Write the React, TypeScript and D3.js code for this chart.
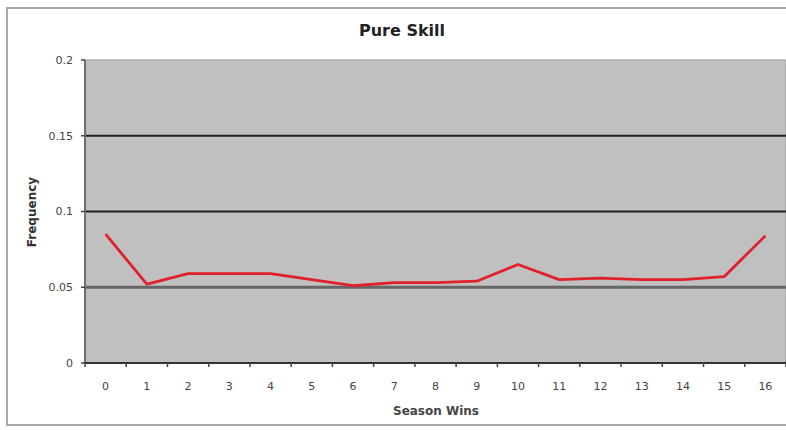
import React from "react";
import * as d3 from "d3";

const title = "Pure Skill";
const xTitle = "Season Wins";
const yTitle = "Frequency";
const wins = ["0","1","2","3","4","5","6","7","8","9","10","11","12","13","14","15","16"];
const frequency = [0.085, 0.052, 0.059, 0.059, 0.059, 0.055, 0.051, 0.053, 0.053, 0.054, 0.065, 0.055, 0.056, 0.055, 0.055, 0.057, 0.084];
const yTicks = [0, 0.05, 0.1, 0.15, 0.2];
const yTickLabels = ["0", "0.05", "0.1", "0.15", "0.2"];

const W = 786, H = 430;
const left = 85, right = 786, top = 60, bottom = 363;

export default function App() {
  const x = d3.scaleBand<string>().domain(wins).range([left, right]);
  const y = d3.scaleLinear().domain([0, 0.2]).range([bottom, top]);
  const line = d3.line<number>()
    .x((_, i) => (x(wins[i]) as number) + x.bandwidth() / 2)
    .y((d) => y(d));
  const font = "'DejaVu Sans', Verdana, sans-serif";
  const boundaries = wins.map((w) => x(w) as number).concat([right]);
  return (
    <svg width={W} height={H} style={{ position: "absolute", left: 0, top: 0, background: "#fff" }}>
      <rect x={7} y={8} width={800} height={417} fill="#fff" stroke="#a8a8a8" strokeWidth={2} />
      <rect x={left} y={top} width={right - left} height={bottom - top} fill="#c0c0c0" stroke="#9a9a9a" strokeWidth={1} />
      {yTicks.filter((t) => t > 0 && t < 0.2).map((t) => (
        <line key={t} x1={left} x2={right} y1={y(t)} y2={y(t)} stroke={t === 0.05 ? "#666" : "#1e1e1e"} strokeWidth={t === 0.05 ? 3 : 1.8} />
      ))}
      <line x1={left} x2={left} y1={top} y2={bottom} stroke="#6f6f6f" strokeWidth={2} />
      <line x1={left} x2={right} y1={bottom} y2={bottom} stroke="#333" strokeWidth={1.8} />
      {yTicks.map((t, i) => (
        <g key={t}>
          <line x1={left - 4} x2={left} y1={y(t)} y2={y(t)} stroke="#444" strokeWidth={1.5} />
          <text x={73} y={y(t)} dy="0.35em" textAnchor="end" fontFamily={font} fontSize={11} fill="#444">{yTickLabels[i]}</text>
        </g>
      ))}
      {boundaries.map((b, i) => (
        <line key={i} x1={b} x2={b} y1={bottom} y2={bottom + 4} stroke="#444" strokeWidth={1.5} />
      ))}
      {wins.map((w) => (
        <text key={w} x={(x(w) as number) + x.bandwidth() / 2} y={390} textAnchor="middle" fontFamily={font} fontSize={11} fill="#444">{w}</text>
      ))}
      <path d={line(frequency) || ""} fill="none" stroke="#e0202a" strokeWidth={2.8} strokeLinejoin="round" />
      <text x={402} y={36} textAnchor="middle" fontFamily={font} fontWeight="bold" fontSize={16} fill="#222">{title}</text>
      <text x={436} y={415} textAnchor="middle" fontFamily={font} fontWeight="bold" fontSize={12} fill="#444">{xTitle}</text>
      <text transform={`translate(36,212) rotate(-90)`} textAnchor="middle" fontFamily={font} fontWeight="bold" fontSize={12} fill="#333">{yTitle}</text>
    </svg>
  );
}
